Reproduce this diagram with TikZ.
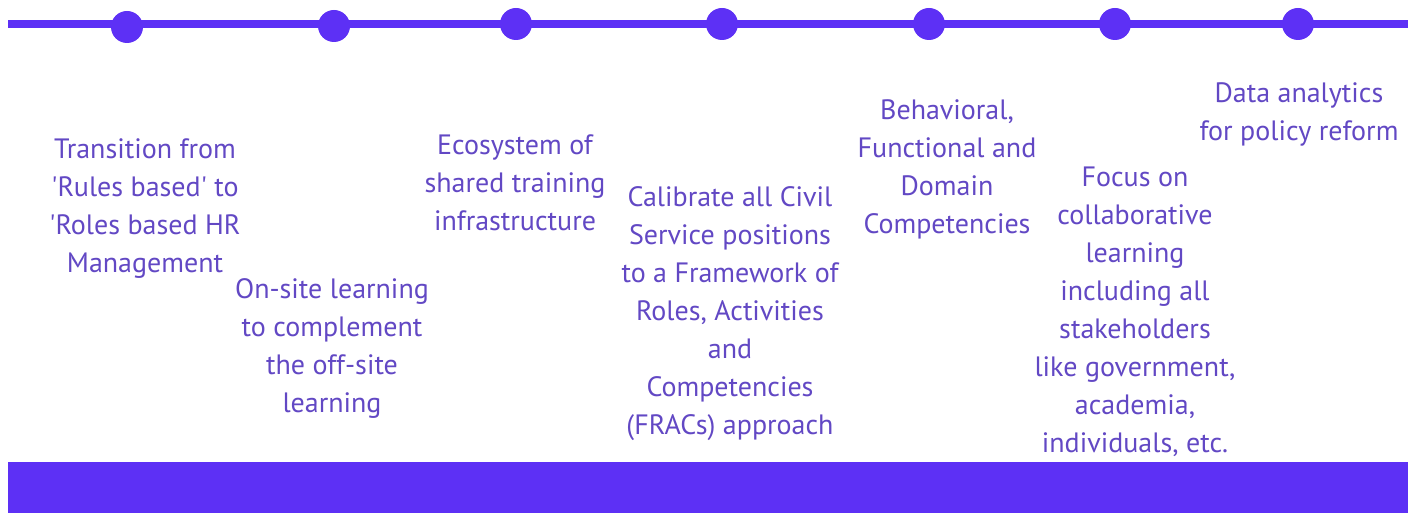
\documentclass[tikz,border=0pt]{standalone}
\usepackage{fontspec}
\setmainfont{PT Sans}
\usepackage{tikz}
\usetikzlibrary{positioning}

\definecolor{bandblue}{RGB}{93,48,245}
\definecolor{textpurple}{RGB}{98,72,196}

\tikzset{
    stepdot/.style={shape=circle,fill=bandblue,minimum size=16pt,inner sep=0pt},
    steptext/.style={align=center,anchor=base,inner sep=0pt,text=textpurple,
        font=\fontsize{14pt}{19pt}\selectfont}
}

\begin{document}
\begin{tikzpicture}[x=0.5pt,y=-0.5pt]
    \useasboundingbox (0,0) rectangle (1408,513);

        % Timeline
        \coordinate (L0) at (8,24);
        \coordinate (L1) at (1408,24);
        \draw[bandblue,line width=4pt] (L0) -- (L1);

        % Milestone dots
        \node[stepdot] (D1) at (127,27) {};
        \node[stepdot] (D2) at (334,26) {};
        \node[stepdot] (D3) at (516,24) {};
        \node[stepdot] (D4) at (722,24) {};
        \node[stepdot] (D5) at (929,24) {};
        \node[stepdot] (D6) at (1115,24) {};
        \node[stepdot] (D7) at (1298,24) {};

        % Milestone texts (placed at the baseline of their last line)
        \node[steptext] (T1) at (145,272) {Transition from\\\textquotesingle Rules based\textquotesingle{} to\\\textquotesingle Roles based HR\\Management};
        \node[steptext] (T2) at (332,412) {On-site learning\\to complement\\the off-site\\learning};
        \node[steptext] (T3) at (515,231) {Ecosystem of\\shared training\\infrastructure};
        \node[steptext] (T4) at (730,434) {Calibrate all Civil\\Service positions\\to a Framework of\\Roles, Activities\\and\\Competencies\\(FRACs) approach};
        \node[steptext] (T5) at (947,234) {Behavioral,\\Functional and\\Domain\\Competencies};
        \node[steptext] (T6) at (1135,452) {Focus on\\collaborative\\learning\\including all\\stakeholders\\like government,\\academia,\\individuals, etc.};
        \node[steptext] (T7) at (1299,141) {Data analytics\\for policy reform};

        % Bottom band
        \fill[bandblue] (8,462) rectangle (1408,513);

    \end{tikzpicture}
\end{document}
